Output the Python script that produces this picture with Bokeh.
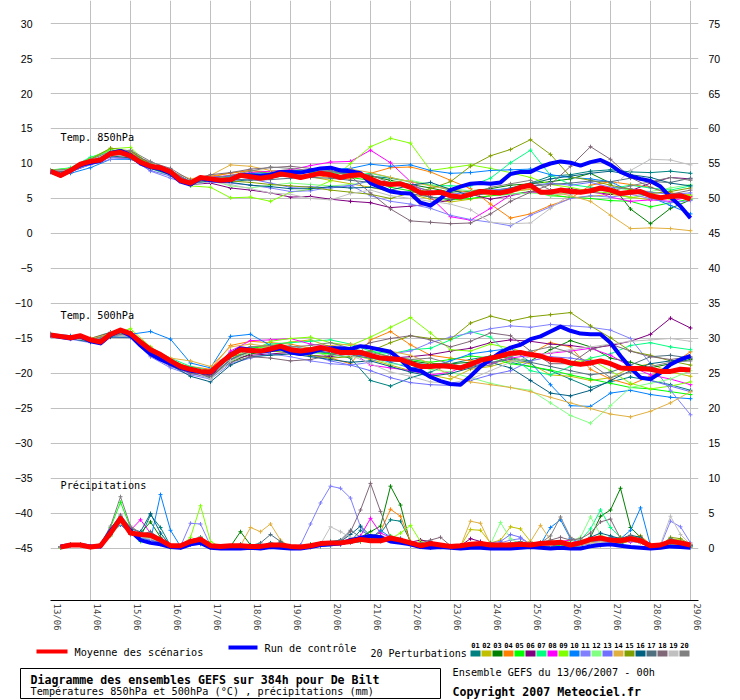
from bokeh.plotting import figure
from bokeh.models import Range1d, LinearAxis, FixedTicker, Label
from bokeh.embed import file_html
from bokeh.resources import INLINE
from bokeh.core.properties import value

MONO = "DejaVu Sans Mono"
SANS = "Liberation Sans"

HOURS_6 = list(range(0, 385, 6))
HOURS_12 = list(range(0, 385, 12))
HOURS_RR = list(range(6, 385, 6))
DAY_LABELS = ["13/06", "14/06", "15/06", "16/06", "17/06", "18/06", "19/06", "20/06", "21/06",
              "22/06", "23/06", "24/06", "25/06", "26/06", "27/06", "28/06", "29/06"]
PERT_NAMES = ["01", "02", "03", "04", "05", "06", "07", "08", "09", "10",
              "11", "12", "13", "14", "15", "16", "17", "18", "19", "20"]
PERT_COLORS = ["#008080", "#c0c000", "#008000", "#ff8000", "#00ff00", "#800080", "#00ff80",
               "#ff00ff", "#80ff00", "#0080ff", "#8080ff", "#80ff80", "#7070ff", "#e0b040",
               "#80a000", "#006080", "#507080", "#806878", "#c0c0c0", "#808080"]

# ---- 850 hPa (degC), 6-hourly ----
mean_850 = [8.9, 8.3, 9.0, 9.9, 10.3, 10.5, 11.4, 11.6, 11.1, 10.2,
            9.6, 9.4, 8.8, 7.6, 7.2, 8.0, 7.8, 7.6, 7.7, 8.3,
            8.1, 7.9, 8.1, 8.5, 8.3, 8.0, 8.3, 8.6, 8.4, 8.0,
            8.3, 8.4, 7.8, 7.2, 7.0, 7.1, 6.6, 5.8, 5.8, 5.9,
            5.4, 5.2, 5.6, 6.0, 5.9, 5.8, 6.1, 6.6, 6.9, 5.9,
            5.9, 6.2, 6.0, 5.9, 6.1, 6.5, 6.2, 5.7, 5.9, 6.0,
            5.4, 5.1, 5.3, 5.4, 4.9]
ctrl_850 = [8.9, 8.3, 9.0, 9.8, 10.1, 10.4, 11.5, 11.8, 11.2, 10.0,
            9.5, 9.2, 8.6, 7.4, 7.0, 7.9, 7.6, 7.5, 7.6, 8.4,
            8.3, 8.2, 8.4, 8.8, 8.8, 8.7, 9.0, 9.3, 9.4, 9.0,
            8.9, 8.6, 7.2, 6.6, 6.0, 5.8, 5.7, 4.4, 4.0, 5.0,
            6.2, 6.7, 7.1, 7.2, 7.1, 7.3, 8.5, 8.8, 8.8, 9.5,
            10.0, 10.3, 10.1, 9.7, 10.2, 10.5, 9.8, 8.8, 8.2, 7.8,
            7.5, 6.7, 5.2, 3.9, 2.2]

# ---- 850 hPa perturbations, 12-hourly ----
pert_850 = [
    [8.8, 8.9, 10.1, 11.2, 11.0, 9.4, 8.5, 7.1, 7.5, 7.4, 7.7, 7.9, 8.4, 8.8, 8.7, 8.5, 8.2, 7.9, 7.4, 6.9, 6.2, 5.9, 6.1, 6.5, 7.2, 8.2, 8.4, 8.9, 9.1, 8.8, 8.7, 8.9, 8.6],
    [9.0, 9.2, 10.6, 11.9, 11.6, 10.0, 8.9, 7.4, 8.0, 8.7, 9.0, 8.8, 8.5, 8.1, 7.6, 7.1, 6.6, 6.0, 5.6, 4.9, 4.5, 4.9, 5.4, 6.0, 6.3, 5.6, 5.1, 5.3, 5.6, 5.2, 4.8, 5.8, 5.5],
    [8.9, 9.0, 10.2, 11.5, 11.2, 9.8, 8.7, 7.3, 7.8, 7.9, 8.2, 8.3, 8.6, 8.8, 8.9, 8.6, 8.2, 7.6, 7.0, 6.5, 5.9, 6.1, 6.4, 6.9, 7.1, 7.4, 7.8, 8.6, 7.2, 3.5, 1.4, 3.6, 4.8],
    [8.8, 9.0, 10.0, 11.0, 10.6, 9.5, 8.9, 7.4, 8.2, 8.6, 9.0, 8.6, 8.1, 8.4, 8.0, 7.8, 8.6, 9.4, 9.5, 8.8, 7.6, 6.4, 4.2, 2.2, 2.8, 4.0, 5.0, 6.9, 7.4, 7.0, 6.6, 5.8, 5.2],
    [9.1, 9.3, 10.8, 12.0, 11.4, 9.9, 8.8, 7.0, 7.6, 7.8, 8.5, 8.9, 9.1, 8.8, 8.4, 8.0, 7.6, 6.6, 6.1, 5.2, 4.8, 5.0, 5.4, 5.6, 6.0, 5.4, 5.2, 5.0, 4.7, 4.6, 3.8, 4.4, 4.9],
    [8.8, 8.8, 9.9, 11.6, 11.8, 9.9, 8.5, 7.0, 7.2, 6.5, 6.2, 5.8, 5.2, 5.3, 4.9, 4.6, 4.4, 3.7, 3.9, 4.2, 4.8, 5.6, 4.9, 5.4, 6.0, 6.2, 6.4, 5.9, 5.6, 6.1, 7.2, 8.0, 7.8],
    [9.0, 9.4, 10.9, 11.7, 11.0, 9.4, 8.6, 7.3, 7.9, 8.0, 8.3, 8.6, 8.6, 8.9, 8.8, 8.3, 8.6, 8.0, 7.4, 6.9, 6.8, 6.8, 7.9, 10.1, 11.9, 8.3, 7.0, 6.6, 6.4, 6.9, 6.5, 6.2, 6.8],
    [8.9, 9.1, 10.4, 11.3, 11.1, 9.7, 8.9, 7.3, 8.0, 8.3, 8.7, 8.9, 9.1, 9.7, 10.2, 10.3, 11.9, 10.1, 7.4, 5.2, 2.4, 1.9, 3.6, 5.5, 5.9, 5.6, 5.7, 6.3, 5.2, 4.6, 4.8, 4.6, 5.3],
    [9.0, 9.3, 10.7, 12.1, 12.3, 9.6, 8.4, 6.8, 6.6, 5.1, 5.2, 4.6, 5.9, 6.3, 7.5, 10.0, 12.4, 13.6, 12.9, 9.0, 9.4, 9.8, 9.3, 8.7, 8.0, 7.0, 6.6, 6.0, 5.8, 5.1, 5.6, 4.9, 5.5],
    [8.7, 8.6, 9.4, 10.6, 10.6, 9.6, 9.0, 7.4, 8.0, 8.2, 8.6, 8.6, 8.9, 9.0, 9.2, 9.3, 9.9, 9.6, 9.8, 9.0, 8.6, 8.7, 9.0, 9.1, 9.2, 8.4, 8.0, 7.8, 7.4, 6.0, 5.2, 4.0, 2.8],
    [8.8, 8.9, 9.8, 10.6, 10.8, 8.9, 7.9, 7.0, 7.4, 7.2, 6.9, 6.5, 6.0, 6.1, 6.6, 6.9, 5.4, 4.6, 4.2, 3.6, 2.6, 2.0, 1.6, 1.1, 2.6, 3.8, 5.0, 5.4, 5.2, 5.6, 5.0, 4.4, 4.7],
    [9.0, 9.2, 10.5, 11.8, 11.0, 9.3, 8.2, 6.9, 7.6, 6.8, 6.5, 6.9, 7.2, 7.0, 6.8, 7.0, 7.4, 7.4, 7.6, 7.0, 6.4, 6.1, 5.9, 5.6, 5.8, 5.5, 5.8, 6.2, 6.6, 6.2, 6.0, 6.5, 7.0],
    [8.9, 8.8, 9.9, 10.9, 10.7, 9.0, 8.2, 7.1, 7.5, 7.6, 7.8, 7.2, 6.6, 6.7, 6.5, 6.8, 7.6, 7.0, 6.8, 6.1, 5.6, 5.9, 6.2, 6.4, 6.8, 7.2, 6.9, 7.3, 6.6, 6.4, 5.9, 5.6, 5.8],
    [8.9, 9.2, 10.4, 11.1, 10.9, 9.8, 8.9, 7.8, 8.3, 9.8, 9.6, 9.0, 8.6, 8.4, 8.8, 9.2, 8.7, 8.0, 7.4, 6.8, 6.3, 5.8, 5.5, 5.9, 6.4, 6.0, 5.4, 4.6, 2.6, 0.7, 0.8, 0.7, 0.4],
    [9.0, 9.1, 10.6, 12.2, 11.8, 9.9, 8.7, 7.2, 7.9, 7.5, 7.3, 7.0, 6.8, 6.6, 6.2, 5.9, 5.6, 5.0, 5.8, 6.4, 7.4, 9.6, 11.1, 12.0, 13.4, 11.3, 8.1, 7.6, 6.9, 6.3, 5.7, 6.0, 6.5],
    [8.8, 8.9, 10.1, 11.1, 10.8, 9.3, 8.4, 6.9, 7.6, 7.3, 6.9, 6.7, 6.4, 6.4, 6.7, 6.5, 6.6, 6.2, 6.9, 7.3, 6.3, 5.4, 5.8, 6.3, 7.1, 7.8, 8.2, 8.6, 8.9, 8.4, 8.0, 7.2, 6.8],
    [8.9, 9.0, 10.2, 11.3, 10.9, 9.4, 8.6, 7.2, 7.7, 7.8, 7.6, 7.7, 7.9, 8.0, 7.9, 7.6, 7.3, 6.2, 5.7, 5.2, 4.9, 5.3, 6.0, 6.3, 6.8, 7.0, 7.2, 7.5, 7.4, 7.9, 7.4, 7.3, 7.9],
    [8.8, 9.0, 10.3, 11.6, 11.4, 10.2, 9.3, 7.6, 8.4, 8.7, 9.2, 9.4, 9.6, 9.3, 9.0, 8.2, 5.8, 3.5, 1.8, 1.6, 1.4, 1.5, 2.8, 4.6, 5.9, 7.0, 9.6, 12.4, 10.6, 8.0, 6.6, 5.6, 6.2],
    [8.9, 9.1, 10.4, 11.2, 11.0, 9.5, 8.6, 7.0, 7.4, 7.0, 6.4, 5.8, 5.6, 5.0, 4.8, 5.7, 6.2, 5.4, 5.0, 4.6, 4.2, 3.4, 1.6, 1.4, 1.5, 3.6, 5.6, 6.0, 6.4, 9.0, 10.6, 10.5, 9.8],
    [9.0, 9.2, 10.6, 11.7, 11.9, 10.3, 9.1, 7.3, 7.9, 8.3, 8.9, 9.5, 9.3, 9.0, 8.9, 8.5, 8.4, 7.2, 6.9, 6.0, 5.1, 5.5, 6.6, 7.1, 7.6, 6.2, 5.8, 6.3, 6.0, 6.8, 7.4, 8.0, 7.6],
]

# ---- 500 hPa (degC), 6-hourly ----
mean_500 = [-14.5, -14.7, -14.9, -14.6, -15.2, -15.5, -14.4, -13.8, -14.3, -15.5,
            -16.6, -17.3, -18.2, -19.0, -19.4, -19.7, -19.8, -18.5, -17.4, -16.6,
            -16.7, -16.8, -16.5, -16.1, -16.6, -16.8, -16.6, -16.3, -16.6, -17.0,
            -17.0, -17.0, -17.4, -17.8, -17.9, -18.0, -18.5, -19.0, -19.0, -18.9,
            -19.0, -19.2, -18.7, -18.1, -17.8, -17.5, -17.1, -17.0, -17.3, -17.5,
            -18.0, -18.1, -18.5, -18.7, -18.5, -18.2, -18.6, -19.2, -19.3, -19.3,
            -19.4, -19.7, -19.7, -19.4, -19.5]
ctrl_500 = [-14.5, -14.8, -15.0, -14.7, -15.4, -15.7, -14.5, -13.9, -14.6, -16.0,
            -17.2, -18.0, -18.6, -19.2, -19.6, -19.8, -19.9, -18.6, -17.3, -16.4,
            -16.6, -16.9, -16.7, -16.4, -17.0, -17.2, -17.0, -16.6, -16.4, -16.4,
            -16.5, -16.1, -16.3, -16.6, -16.9, -18.0, -19.4, -19.6, -20.5, -21.1,
            -21.5, -21.6, -20.4, -19.0, -18.0, -17.0, -16.3, -15.9, -15.1, -14.7,
            -14.0, -13.3, -13.9, -14.3, -14.4, -14.4, -15.6, -17.5, -19.2, -20.6,
            -20.8, -19.9, -18.7, -18.0, -17.5]

# ---- 500 hPa perturbations, 12-hourly ----
pert_500 = [
    [-14.4, -14.8, -15.0, -14.1, -14.5, -17.0, -18.6, -19.6, -20.5, -18.0, -16.4, -16.0, -16.1, -16.6, -17.2, -17.8, -21.0, -21.8, -20.6, -19.8, -18.6, -18.0, -17.5, -18.4, -19.0, -19.6, -20.8, -22.0, -21.2, -20.5, -21.0, -21.6, -22.4],
    [-14.6, -14.9, -15.4, -14.6, -14.2, -16.2, -18.0, -19.2, -20.2, -17.6, -16.3, -16.0, -15.5, -15.2, -16.2, -17.2, -18.0, -18.8, -19.6, -20.2, -20.8, -19.4, -19.0, -18.2, -18.6, -20.2, -20.4, -21.0, -20.6, -19.2, -18.6, -19.8, -20.4],
    [-14.5, -14.9, -15.3, -14.5, -14.3, -16.8, -18.4, -19.3, -20.3, -18.4, -17.2, -16.8, -16.6, -16.3, -16.0, -16.8, -17.4, -18.0, -18.2, -18.6, -18.6, -18.4, -17.6, -17.8, -18.2, -16.6, -15.3, -16.2, -17.8, -18.4, -19.2, -18.6, -18.0],
    [-14.3, -14.7, -15.0, -14.2, -14.6, -17.2, -18.6, -19.0, -19.4, -16.0, -15.4, -15.6, -15.8, -16.4, -17.8, -18.6, -15.2, -14.0, -15.9, -17.4, -17.8, -18.2, -18.0, -17.4, -17.2, -15.6, -16.2, -19.4, -20.8, -21.6, -20.4, -18.8, -16.9],
    [-14.6, -15.0, -15.5, -14.4, -14.0, -16.5, -18.0, -19.4, -20.0, -17.0, -16.2, -16.4, -16.8, -17.0, -17.2, -17.0, -16.8, -17.6, -18.0, -18.4, -18.0, -17.5, -17.8, -18.6, -19.0, -19.5, -20.2, -20.8, -21.4, -22.0, -22.2, -22.6, -23.0],
    [-14.5, -14.9, -15.1, -14.2, -14.1, -16.9, -18.9, -19.9, -20.3, -18.0, -17.4, -17.2, -17.0, -17.4, -17.6, -17.2, -17.6, -17.8, -17.6, -17.3, -16.8, -16.4, -15.6, -15.2, -15.4, -15.8, -16.0, -16.4, -16.0, -15.4, -14.4, -12.1, -13.5],
    [-14.4, -14.7, -15.1, -14.3, -14.2, -16.3, -17.8, -19.0, -19.6, -17.0, -16.3, -15.8, -15.6, -15.4, -15.2, -15.8, -16.8, -17.2, -16.6, -16.4, -15.2, -14.0, -14.8, -17.6, -19.6, -20.2, -19.0, -17.8, -17.2, -16.0, -15.6, -16.2, -16.6],
    [-14.5, -14.8, -15.2, -14.6, -14.4, -16.5, -18.0, -19.6, -19.9, -16.8, -15.3, -15.2, -15.0, -15.8, -16.2, -16.8, -18.8, -19.2, -19.6, -20.2, -19.8, -18.6, -18.6, -17.8, -17.4, -17.1, -16.8, -16.4, -17.4, -19.0, -20.2, -20.8, -21.6],
    [-14.6, -14.9, -15.3, -14.5, -13.6, -16.2, -18.7, -19.8, -20.7, -18.2, -17.0, -15.4, -15.0, -14.8, -15.6, -16.0, -14.8, -13.4, -12.0, -14.2, -16.6, -16.8, -15.8, -16.4, -17.2, -18.0, -18.4, -18.0, -19.6, -21.4, -22.2, -21.8, -21.2],
    [-14.3, -14.6, -15.3, -14.7, -14.4, -14.0, -15.1, -18.5, -19.2, -14.7, -14.4, -16.0, -16.4, -16.8, -17.0, -17.2, -17.6, -18.4, -19.2, -19.0, -18.2, -17.2, -16.8, -16.4, -18.4, -21.6, -24.6, -24.7, -22.8, -22.4, -23.0, -23.4, -23.6],
    [-14.7, -15.1, -15.6, -14.8, -14.9, -17.6, -19.2, -20.2, -20.8, -18.6, -17.8, -17.2, -17.6, -18.2, -18.6, -18.8, -18.4, -17.2, -16.8, -15.6, -14.8, -14.2, -13.6, -13.2, -13.4, -13.0, -13.2, -13.4, -13.8, -15.0, -18.6, -22.4, -25.9],
    [-14.4, -14.8, -15.2, -14.3, -14.5, -16.8, -18.4, -19.8, -20.6, -17.8, -16.6, -16.2, -16.6, -17.0, -17.4, -17.6, -17.8, -18.6, -18.8, -19.4, -19.8, -20.6, -21.4, -22.0, -22.4, -24.2, -26.0, -27.1, -24.6, -22.0, -21.4, -20.8, -19.6],
    [-14.6, -14.9, -15.4, -14.4, -14.7, -17.4, -19.0, -20.0, -20.6, -18.0, -16.8, -16.6, -16.8, -17.4, -18.2, -18.8, -19.6, -20.6, -21.3, -21.6, -21.7, -21.0, -20.2, -19.6, -18.2, -17.6, -17.8, -18.2, -18.8, -19.6, -21.0, -21.8, -22.6],
    [-14.5, -14.9, -15.1, -14.3, -14.2, -16.4, -17.8, -18.2, -19.0, -16.2, -15.8, -16.2, -16.4, -16.6, -16.0, -15.8, -16.2, -16.8, -17.4, -18.6, -20.4, -21.2, -21.6, -22.0, -22.6, -23.4, -24.2, -25.0, -25.8, -26.2, -25.4, -24.2, -22.6],
    [-14.5, -14.8, -15.2, -14.4, -14.4, -16.6, -18.2, -19.6, -20.0, -17.6, -17.0, -16.8, -17.0, -17.4, -17.8, -17.6, -16.8, -15.6, -14.6, -15.0, -15.1, -12.8, -11.8, -12.5, -11.9, -11.6, -11.3, -13.2, -14.9, -16.8, -17.4, -18.2, -18.8],
    [-14.6, -15.0, -15.5, -14.8, -14.8, -17.2, -18.8, -20.4, -21.2, -18.8, -17.6, -17.4, -17.2, -17.6, -18.0, -18.4, -18.2, -19.0, -19.8, -20.4, -20.0, -19.2, -18.4, -19.2, -21.0, -22.8, -23.2, -22.4, -21.0, -19.6, -18.6, -18.2, -17.8],
    [-14.4, -14.8, -15.2, -14.5, -14.6, -17.0, -18.6, -19.8, -20.6, -18.0, -16.8, -16.6, -16.6, -16.8, -17.0, -17.4, -17.8, -18.2, -18.4, -18.8, -19.2, -19.0, -18.4, -18.0, -18.4, -19.0, -19.6, -20.2, -19.8, -18.8, -17.6, -17.4, -17.8],
    [-14.5, -14.9, -15.3, -14.6, -14.5, -16.9, -18.8, -20.0, -20.4, -18.4, -17.6, -17.8, -18.2, -18.0, -17.4, -16.8, -15.6, -15.0, -14.6, -15.2, -16.2, -15.4, -14.2, -14.6, -16.8, -18.6, -18.6, -16.6, -15.8, -16.8, -17.6, -18.0, -17.6],
    [-14.6, -15.0, -15.3, -14.4, -14.7, -17.2, -18.4, -19.6, -20.8, -18.2, -17.0, -16.4, -16.2, -16.6, -16.8, -17.4, -18.6, -19.8, -20.4, -21.2, -21.4, -20.8, -19.6, -18.4, -17.6, -17.0, -16.6, -16.2, -15.8, -15.4, -15.2, -15.0, -15.4],
    [-14.5, -14.9, -15.2, -14.5, -14.4, -16.7, -18.4, -19.4, -20.0, -17.4, -16.2, -16.0, -16.2, -16.0, -15.6, -16.4, -17.0, -17.6, -18.0, -17.8, -18.6, -19.2, -18.8, -17.6, -16.8, -16.2, -17.0, -18.6, -20.6, -19.8, -19.0, -18.4, -18.2],
]

# ---- precipitation (mm per 6 h), from +6 h ----
mean_rr = [0.2, 0.5, 0.5, 0.2, 0.4, 2.2, 4.3, 2.2, 2.0, 1.9,
           1.2, 0.4, 0.4, 1.0, 1.3, 0.4, 0.3, 0.4, 0.4, 0.3,
           0.3, 0.5, 0.5, 0.3, 0.2, 0.4, 0.7, 0.8, 0.8, 1.0,
           1.3, 1.1, 1.1, 1.5, 1.2, 0.8, 0.4, 0.7, 0.5, 0.3,
           0.4, 0.6, 0.7, 0.5, 0.5, 0.5, 0.6, 0.5, 0.7, 0.8,
           0.9, 0.5, 0.8, 1.3, 1.5, 1.2, 1.1, 1.4, 1.1, 0.4,
           0.5, 1.0, 0.8, 0.5]
ctrl_rr = [0.3, 0.5, 0.5, 0.3, 0.3, 2.5, 4.2, 2.5, 1.2, 0.8,
           0.6, 0.2, 0.1, 0.6, 0.8, 0.1, 0.0, 0.0, 0.0, 0.1,
           0.0, 0.2, 0.1, 0.0, 0.0, 0.2, 0.5, 0.6, 0.7, 1.2,
           1.5, 1.8, 1.6, 1.0, 0.8, 0.6, 0.2, 0.1, 0.2, 0.1,
           0.0, 0.1, 0.1, 0.0, 0.0, 0.0, 0.1, 0.2, 0.1, 0.0,
           0.1, 0.0, 0.0, 0.3, 0.5, 0.6, 0.4, 0.2, 0.1, 0.0,
           0.1, 0.3, 0.2, 0.1]
pert_rr = [
    [0.2, 0.6, 0.5, 0.2, 0.5, 2.4, 4.0, 2.6, 1.6, 4.8, 3.0, 0.4, 0.2, 0.8, 1.0, 0.1, 0.2, 0.3, 0.6, 0.4, 0.3, 0.8, 0.6, 0.2, 0.1, 0.3, 0.6, 1.0, 1.2, 1.0, 2.6, 1.8, 2.2, 4.1, 3.9, 1.0, 0.4, 0.2, 0.3, 0.1, 0.3, 0.5, 0.8, 0.4, 0.2, 0.4, 0.6, 0.3, 0.5, 0.4, 0.6, 0.3, 0.8, 1.0, 1.4, 0.9, 0.6, 1.2, 0.8, 0.2, 0.3, 0.9, 0.6, 0.3],
    [0.1, 0.4, 0.5, 0.3, 0.4, 2.0, 3.6, 2.4, 1.8, 1.4, 0.8, 0.2, 0.2, 0.9, 1.4, 0.2, 0.1, 0.2, 0.3, 0.2, 0.2, 0.3, 0.4, 0.2, 0.1, 0.2, 0.4, 0.6, 0.8, 0.9, 1.0, 1.2, 1.0, 1.4, 1.0, 0.6, 0.3, 0.4, 0.5, 0.2, 0.3, 2.7, 2.6, 0.8, 1.2, 3.1, 2.8, 1.0, 0.4, 0.6, 0.5, 0.2, 0.8, 0.6, 0.4, 0.7, 0.8, 1.0, 1.2, 0.3, 0.4, 1.4, 1.2, 0.5],
    [0.2, 0.5, 0.6, 0.2, 0.3, 1.8, 4.4, 2.0, 2.2, 3.8, 1.6, 0.3, 0.2, 0.7, 1.6, 0.4, 0.2, 0.3, 2.4, 0.5, 0.2, 0.4, 0.3, 0.1, 0.2, 0.6, 0.4, 0.8, 0.6, 1.4, 1.6, 2.4, 3.2, 8.9, 6.2, 0.6, 0.4, 0.2, 0.3, 0.1, 0.2, 0.4, 0.3, 0.5, 0.3, 0.4, 0.6, 0.2, 0.4, 0.5, 0.8, 0.4, 0.6, 1.6, 4.6, 5.5, 8.6, 3.0, 1.6, 0.2, 0.3, 0.8, 0.5, 0.2],
    [0.2, 0.4, 0.4, 0.3, 0.6, 2.6, 3.8, 2.2, 1.6, 1.2, 0.9, 0.2, 0.3, 1.0, 0.8, 0.2, 0.1, 0.2, 0.4, 0.3, 0.2, 0.4, 0.5, 0.3, 0.2, 0.3, 0.5, 0.7, 1.0, 1.1, 1.4, 1.6, 2.4, 5.6, 4.6, 1.0, 0.4, 0.3, 0.4, 0.2, 0.2, 0.6, 0.4, 0.3, 0.5, 0.3, 0.4, 0.6, 0.5, 0.4, 0.7, 0.3, 0.6, 0.8, 1.8, 1.4, 1.0, 1.6, 1.8, 0.6, 0.4, 0.6, 0.4, 0.2],
    [0.1, 0.4, 0.5, 0.2, 0.6, 3.0, 6.6, 3.0, 1.0, 1.4, 0.6, 0.1, 0.3, 0.8, 1.6, 0.4, 0.1, 0.2, 0.4, 0.1, 0.2, 0.3, 0.2, 0.1, 0.1, 0.2, 0.3, 0.5, 0.7, 0.8, 1.2, 1.5, 1.2, 1.8, 1.4, 0.8, 0.2, 0.1, 0.2, 0.1, 0.1, 0.2, 0.3, 0.2, 0.2, 0.3, 0.4, 0.2, 0.3, 0.2, 0.5, 0.3, 0.4, 0.8, 1.2, 1.0, 0.9, 1.2, 1.0, 0.3, 0.2, 0.7, 0.9, 0.4],
    [0.2, 0.5, 0.5, 0.2, 0.3, 2.2, 3.4, 2.4, 2.0, 1.6, 1.2, 0.3, 0.2, 0.6, 0.9, 0.2, 0.1, 0.2, 0.3, 0.2, 0.1, 0.2, 0.3, 0.1, 0.1, 0.2, 0.4, 0.5, 0.6, 0.8, 1.0, 1.6, 1.8, 1.3, 1.0, 0.9, 1.2, 1.0, 0.4, 0.2, 0.4, 1.4, 1.0, 0.4, 0.3, 0.5, 0.4, 0.2, 0.3, 0.4, 0.6, 0.4, 0.5, 0.7, 0.8, 0.6, 1.2, 1.4, 0.8, 0.2, 0.3, 0.8, 0.6, 0.4],
    [0.2, 0.6, 0.5, 0.2, 0.4, 2.6, 4.6, 2.8, 1.4, 1.8, 1.0, 0.2, 0.2, 0.8, 1.2, 0.3, 0.2, 0.3, 0.4, 0.2, 0.3, 0.4, 0.5, 0.2, 0.1, 0.2, 0.3, 0.6, 0.8, 1.0, 1.2, 1.4, 1.6, 1.2, 1.5, 0.6, 0.3, 0.2, 0.3, 0.2, 0.3, 0.4, 0.5, 0.4, 0.4, 0.6, 0.5, 0.3, 0.5, 0.6, 0.8, 0.5, 1.2, 2.8, 5.5, 3.0, 1.6, 1.2, 1.4, 0.4, 0.3, 0.6, 0.4, 0.3],
    [0.2, 0.5, 0.6, 0.2, 0.3, 2.0, 3.9, 2.6, 4.1, 2.2, 1.4, 0.3, 0.2, 0.6, 1.0, 0.3, 0.1, 0.2, 0.4, 0.2, 0.2, 0.3, 0.4, 0.1, 0.1, 0.2, 0.3, 0.5, 0.8, 0.9, 1.8, 4.3, 2.2, 1.6, 1.4, 0.6, 0.4, 0.2, 0.3, 0.2, 0.3, 0.4, 0.6, 0.5, 0.3, 0.4, 0.5, 0.8, 0.6, 0.9, 1.0, 1.2, 0.8, 0.6, 0.8, 0.7, 1.2, 0.9, 1.6, 0.3, 0.4, 0.7, 0.6, 0.4],
    [0.2, 0.4, 0.5, 0.3, 0.5, 2.4, 4.2, 2.0, 1.8, 1.4, 1.0, 0.2, 0.3, 1.6, 6.1, 1.0, 0.2, 0.3, 0.4, 0.2, 0.2, 0.3, 0.4, 0.2, 0.1, 0.3, 0.4, 0.6, 0.7, 0.9, 1.2, 2.0, 1.6, 1.4, 2.2, 3.3, 1.0, 0.4, 0.3, 0.2, 0.2, 0.4, 0.5, 0.3, 0.4, 0.6, 0.5, 0.3, 0.4, 0.5, 0.7, 0.4, 0.6, 0.8, 1.4, 1.6, 1.2, 1.8, 1.6, 0.4, 0.3, 0.9, 0.8, 0.4],
    [0.2, 0.4, 0.5, 0.2, 0.4, 2.0, 3.4, 2.2, 1.6, 1.2, 7.7, 2.6, 0.3, 0.5, 0.6, 0.1, 0.1, 0.2, 0.3, 0.1, 0.2, 0.3, 0.2, 0.1, 0.1, 0.2, 0.3, 0.4, 0.6, 0.8, 1.0, 1.4, 2.6, 1.6, 1.0, 0.4, 0.2, 0.1, 0.2, 0.1, 0.2, 0.3, 0.4, 0.3, 0.2, 0.3, 0.4, 0.5, 0.6, 3.0, 4.1, 1.4, 0.8, 0.6, 0.9, 1.6, 1.4, 2.6, 5.8, 0.4, 0.3, 0.9, 0.6, 0.3],
    [0.2, 0.5, 0.5, 0.3, 0.4, 2.2, 4.0, 2.4, 1.8, 1.6, 1.0, 0.3, 0.3, 3.6, 3.5, 0.4, 0.2, 0.2, 0.3, 0.2, 0.3, 0.4, 0.3, 0.2, 0.5, 3.5, 6.5, 8.9, 8.6, 7.2, 3.1, 1.2, 1.0, 1.2, 1.0, 0.6, 0.3, 0.2, 0.4, 0.2, 0.3, 0.5, 0.4, 0.6, 0.8, 1.2, 1.4, 0.6, 0.4, 0.6, 0.8, 0.5, 0.6, 0.9, 1.0, 0.8, 1.2, 1.0, 0.8, 0.3, 0.4, 3.9, 3.1, 0.8],
    [0.2, 0.5, 0.5, 0.2, 0.3, 1.8, 3.6, 2.2, 1.6, 1.4, 0.8, 0.2, 0.2, 0.7, 1.0, 0.2, 0.1, 0.2, 0.3, 0.2, 0.2, 0.3, 0.3, 0.1, 0.1, 0.2, 0.3, 0.5, 0.7, 0.8, 1.0, 1.2, 1.0, 1.3, 1.2, 0.6, 0.3, 0.2, 0.3, 0.2, 0.3, 0.4, 0.5, 0.6, 3.7, 1.4, 0.6, 0.4, 0.5, 0.6, 0.8, 1.0, 1.6, 4.5, 2.0, 1.2, 1.0, 1.4, 0.8, 0.3, 0.2, 0.6, 0.5, 0.3],
    [0.2, 0.4, 0.6, 0.3, 0.4, 2.2, 3.8, 2.0, 1.6, 1.2, 0.9, 0.3, 0.2, 0.6, 1.2, 0.2, 0.2, 0.3, 0.3, 0.2, 0.1, 0.3, 0.4, 0.2, 0.1, 0.2, 0.3, 0.5, 0.6, 0.8, 1.0, 1.3, 1.4, 1.6, 1.2, 0.8, 0.4, 0.3, 0.4, 0.3, 0.4, 0.6, 0.5, 0.8, 1.0, 2.0, 1.6, 0.6, 0.6, 0.8, 1.0, 0.6, 0.7, 0.9, 1.1, 0.9, 1.0, 1.2, 1.0, 0.4, 0.5, 1.0, 0.8, 0.5],
    [0.2, 0.5, 0.5, 0.2, 0.4, 2.4, 4.4, 2.6, 1.8, 1.6, 1.0, 0.2, 0.3, 0.8, 1.1, 0.2, 0.2, 0.3, 0.4, 3.0, 2.4, 3.5, 1.2, 0.2, 0.1, 0.3, 0.4, 0.6, 0.8, 0.9, 1.1, 1.4, 1.2, 1.6, 1.2, 0.6, 0.3, 0.2, 0.4, 0.2, 0.3, 3.9, 3.6, 0.6, 0.4, 0.6, 0.8, 1.0, 3.3, 1.2, 0.8, 0.4, 0.6, 0.8, 1.0, 0.8, 1.1, 1.3, 1.0, 0.3, 0.4, 1.2, 0.9, 0.4],
    [0.2, 0.5, 0.6, 0.2, 0.4, 2.0, 4.0, 2.2, 1.8, 1.6, 1.2, 0.2, 0.2, 0.8, 1.0, 0.2, 0.1, 0.2, 0.3, 0.2, 0.2, 0.3, 0.3, 0.1, 0.1, 0.2, 0.4, 0.5, 0.7, 0.9, 1.0, 1.4, 1.2, 1.4, 1.0, 0.7, 0.4, 0.3, 0.4, 0.2, 0.3, 0.4, 0.6, 0.4, 0.5, 0.6, 0.5, 0.4, 0.5, 0.6, 0.7, 0.5, 0.8, 1.0, 1.4, 1.2, 1.6, 1.4, 1.8, 0.3, 0.4, 1.6, 1.4, 0.6],
    [0.2, 0.5, 0.5, 0.3, 0.4, 2.4, 4.2, 2.8, 2.4, 5.0, 2.2, 0.4, 0.3, 1.0, 1.4, 0.3, 0.2, 0.3, 0.5, 0.3, 0.2, 0.6, 0.8, 0.3, 0.2, 0.4, 0.5, 0.8, 1.0, 2.0, 3.2, 1.8, 1.6, 1.4, 1.0, 0.6, 0.3, 0.2, 0.4, 0.2, 0.3, 0.5, 0.6, 0.4, 0.5, 0.6, 0.7, 0.5, 0.6, 0.7, 0.9, 0.6, 0.8, 1.6, 2.2, 1.8, 1.4, 1.9, 1.6, 0.4, 0.3, 0.9, 0.7, 0.4],
    [0.2, 0.5, 0.6, 0.2, 0.5, 2.6, 4.6, 2.6, 2.0, 2.4, 1.4, 0.3, 0.2, 1.2, 1.6, 0.3, 0.2, 0.3, 0.6, 0.4, 0.8, 2.0, 1.0, 0.3, 0.1, 0.3, 0.6, 0.8, 1.2, 2.6, 1.6, 1.4, 1.2, 1.5, 1.0, 0.6, 0.4, 0.2, 0.4, 0.2, 0.4, 0.6, 0.5, 0.4, 0.6, 0.8, 1.0, 0.6, 0.7, 0.8, 1.0, 0.6, 0.9, 1.2, 1.6, 1.4, 1.0, 1.4, 1.2, 0.3, 0.4, 1.4, 1.0, 0.5],
    [0.2, 0.6, 0.5, 0.2, 0.6, 2.8, 4.8, 3.0, 2.2, 2.0, 1.2, 0.3, 0.3, 1.0, 1.2, 0.3, 0.2, 0.3, 0.4, 0.2, 0.3, 0.5, 0.4, 0.2, 0.2, 0.3, 0.4, 0.6, 0.9, 2.4, 5.5, 9.3, 5.3, 1.5, 1.0, 0.6, 0.8, 1.2, 1.6, 0.4, 0.3, 0.5, 0.6, 0.8, 0.6, 0.5, 0.6, 0.8, 0.9, 1.2, 1.6, 1.2, 1.4, 2.2, 3.8, 4.2, 1.4, 1.8, 1.4, 0.4, 0.3, 1.0, 0.8, 0.4],
    [0.2, 0.4, 0.5, 0.2, 0.4, 2.2, 3.6, 2.2, 1.6, 1.4, 1.0, 0.2, 0.2, 0.6, 0.9, 0.2, 0.1, 0.2, 0.3, 0.2, 0.2, 0.3, 0.3, 0.2, 0.1, 0.2, 0.6, 3.1, 2.4, 1.6, 1.4, 1.2, 1.0, 1.2, 1.0, 0.6, 0.3, 0.2, 0.3, 0.2, 0.2, 0.3, 0.4, 0.3, 0.4, 0.5, 0.4, 0.3, 0.4, 0.5, 0.6, 0.4, 0.5, 0.7, 0.9, 0.8, 1.0, 1.2, 0.8, 0.3, 0.6, 4.6, 2.0, 0.6],
    [0.2, 0.5, 0.6, 0.3, 0.6, 3.2, 7.4, 3.2, 2.2, 2.0, 1.2, 0.3, 0.3, 1.2, 1.6, 0.4, 0.2, 0.3, 0.5, 0.3, 0.3, 0.6, 0.5, 0.2, 0.2, 0.3, 0.5, 0.7, 1.0, 1.2, 1.4, 1.6, 1.4, 1.6, 1.2, 0.8, 0.4, 0.3, 0.5, 0.3, 0.4, 0.6, 0.7, 0.5, 0.6, 0.8, 0.9, 0.6, 0.8, 1.8, 4.5, 1.6, 1.0, 1.2, 1.4, 1.2, 1.0, 1.4, 1.2, 0.4, 0.3, 1.2, 1.0, 0.5],
]

LEFT_TICKS = list(range(-45, 31, 5))
RIGHT_TICKS = list(range(0, 76, 5))
Y_LO, Y_HI = -52.43, 33.286
RIGHT_OFFSET = 45
X_END = 388.8
LABEL_SHIFT = 3.6

p = figure(width=740, height=640, x_range=Range1d(0, X_END), y_range=Range1d(Y_LO, Y_HI),
           output_backend="svg", toolbar_location=None, title=None,
           min_border_left=50, min_border_right=42, min_border_top=0, min_border_bottom=40)
p.outline_line_color = None
p.extra_y_ranges = {"mm": Range1d(Y_LO + RIGHT_OFFSET, Y_HI + RIGHT_OFFSET)}

# axes
p.yaxis.ticker = FixedTicker(ticks=LEFT_TICKS)
p.xaxis.ticker = FixedTicker(ticks=[24 * k + LABEL_SHIFT for k in range(len(DAY_LABELS))])
p.xaxis.major_label_overrides = {24 * k + LABEL_SHIFT: lab for k, lab in enumerate(DAY_LABELS)}
p.xaxis.major_label_orientation = "vertical"
p.xaxis.major_label_text_font = MONO
p.xaxis.major_label_text_font_size = "9px"
p.xaxis.major_label_standoff = 3
p.xaxis.axis_line_color = "black"

rax = LinearAxis(y_range_name="mm", ticker=FixedTicker(ticks=RIGHT_TICKS))
p.add_layout(rax, "right")

for ax in [p.yaxis[0], rax]:
    ax.axis_line_color = None
    ax.major_label_text_font = SANS
    ax.major_label_text_font_size = "10.5px"
    ax.major_label_text_color = "black"
for ax in [p.xaxis[0], p.yaxis[0], rax]:
    ax.major_tick_line_color = None
    ax.minor_tick_line_color = None
    ax.major_tick_out = 0
    ax.major_tick_in = 0
p.yaxis[0].major_label_standoff = 18
rax.major_label_standoff = 10

p.xgrid.ticker = FixedTicker(ticks=[24 * k for k in range(len(DAY_LABELS))])
p.ygrid.ticker = FixedTicker(ticks=LEFT_TICKS)
p.ygrid.bounds = (0, 384)
p.grid.grid_line_color = "#c0c0c0"
p.grid.grid_line_width = 1


def draw(xs, ys, color, width, marker, rng=None):
    n = min(len(xs), len(ys))
    kw = {"y_range_name": rng} if rng else {}
    p.line(xs[:n], ys[:n], line_color=color, line_width=width, line_join="round", **kw)
    if marker:
        p.scatter(xs[:n], ys[:n], marker="cross", size=4, line_color=color, line_width=1, **kw)


for i, col in enumerate(PERT_COLORS):
    draw(HOURS_12, pert_850[i], col, 1, True)
    draw(HOURS_12, pert_500[i], col, 1, True)
    draw(HOURS_RR, pert_rr[i], col, 1, True, "mm")

draw(HOURS_6, ctrl_850, "#0000ff", 4, False)
draw(HOURS_6, ctrl_500, "#0000ff", 4, False)
draw(HOURS_RR, ctrl_rr, "#0000ff", 4, False, "mm")
draw(HOURS_6, mean_850, "#ff0000", 5, False)
draw(HOURS_6, mean_500, "#ff0000", 5, False)
draw(HOURS_RR, mean_rr, "#ff0000", 5, False, "mm")

p.text(x=[6, 6, 6], y=[13.7, -11.7, -36.0],
       text=["Temp. 850hPa", "Temp. 500hPa", "Précipitations"],
       text_font=value(MONO), text_font_size="10.2px", text_baseline="middle",
       text_color="black")

p.add_layout(Label(x=-19.2, y=-53.3, text="(°C)", text_font=MONO, text_font_size="10px",
                   text_baseline="middle", text_align="left"))
p.add_layout(Label(x=395.4, y=-53.3, text="(mm)", text_font=MONO, text_font_size="10px",
                   text_baseline="middle", text_align="left"))

# ---- legend / caption strip (page pixel coordinates), separate root so frames are not aligned ----
lg = figure(width=740, height=60, x_range=Range1d(0, 740), y_range=Range1d(700, 640),
            output_backend="svg", toolbar_location=None, title=None,
            x_axis_type=None, y_axis_type=None, min_border=0)
lg.outline_line_color = None

lg.segment(x0=[36], y0=[651], x1=[67], y1=[651], line_color="#ff0000", line_width=4)
lg.segment(x0=[228], y0=[647], x1=[257], y1=[647], line_color="#0000ff", line_width=4)
lg.text(x=[74, 264], y=[652, 647.5],
        text=["Moyenne des scénarios", "Run de contrôle"],
        text_font=value(MONO), text_font_size="10.2px", text_baseline="middle")
lg.text(x=[370], y=[653], text=["20 Perturbations"],
        text_font=value(MONO), text_font_size="10px", text_baseline="middle")
sq_x = [475 + 11 * i for i in range(len(PERT_COLORS))]
lg.rect(x=sq_x, y=653, width=10, height=6, fill_color=PERT_COLORS, line_color=None)
lg.text(x=sq_x, y=[644] * len(sq_x), text=PERT_NAMES, text_font=value(MONO),
        text_font_size="7px", text_font_style="bold", text_align="center", text_baseline="middle")
lg.quad(left=[20], right=[440], top=[668], bottom=[698], fill_color=None, line_color="black",
        line_width=1)
lg.text(x=[30], y=[679], text=["Diagramme des ensembles GEFS sur 384h pour De Bilt"],
        text_font=value(MONO), text_font_size="11.6px", text_font_style="bold",
        text_baseline="middle")
lg.text(x=[30], y=[691], text=["Températures 850hPa et 500hPa (°C) , précipitations (mm)"],
        text_font=value(MONO), text_font_size="10.2px", text_baseline="middle")
lg.text(x=[452], y=[672], text=["Ensemble GEFS du 13/06/2007 - 00h"],
        text_font=value(MONO), text_font_size="10.2px", text_baseline="middle")
lg.text(x=[452], y=[691], text=["Copyright 2007 Meteociel.fr"],
        text_font=value(MONO), text_font_size="11.6px", text_font_style="bold",
        text_baseline="middle")

open("out.html", "w").write(file_html([p, lg], INLINE))
